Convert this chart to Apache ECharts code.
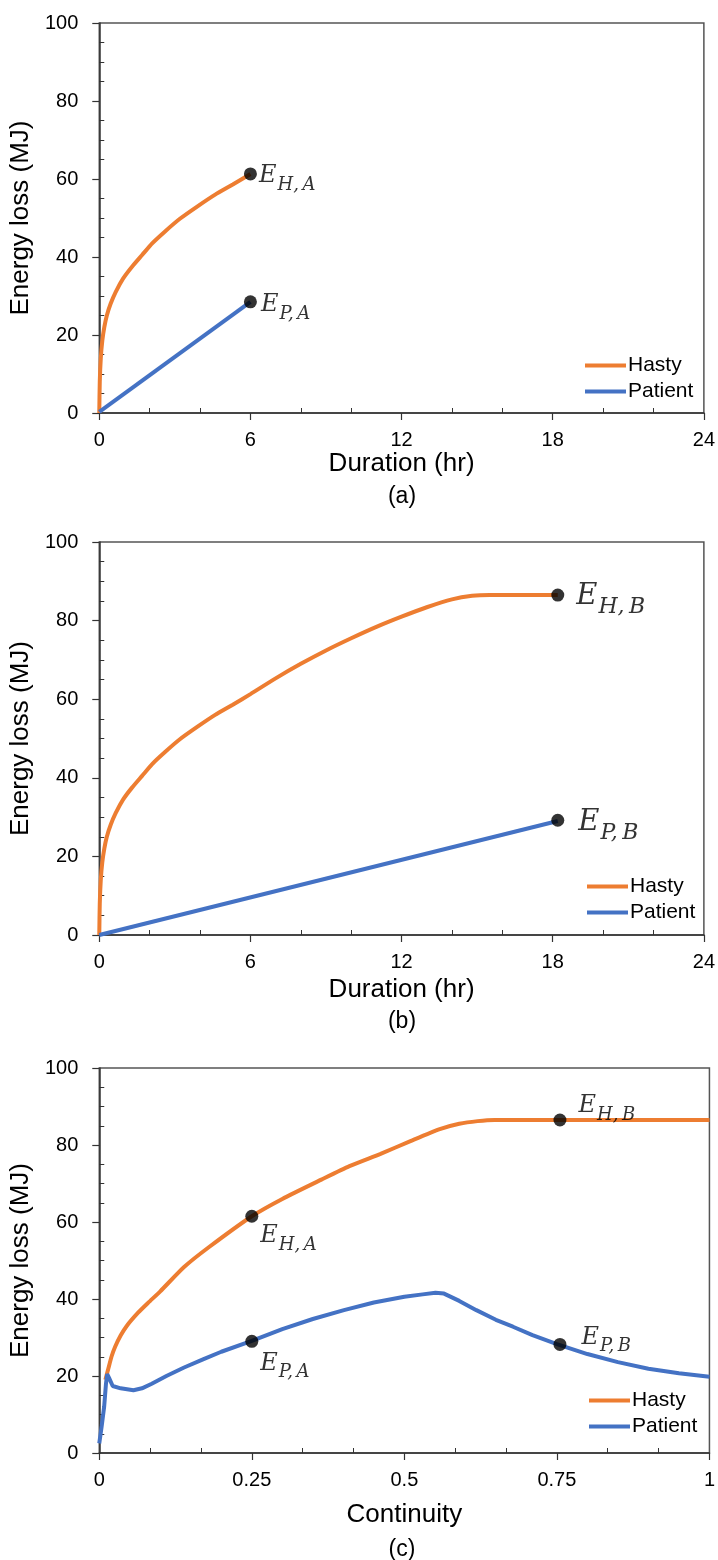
<!DOCTYPE html>
<html>
<head>
<meta charset="utf-8">
<script src="https://cdn.jsdelivr.net/npm/echarts@6/dist/echarts.min.js"></script>
<style>
  html, body { margin: 0; padding: 0; background: #fff; }
  #container { width: 718px; height: 1560px; }
</style>
</head>
<body>
<div id="container"></div>
<script>
// ---- data ----
var seriesNames = ['Hasty', 'Patient'];

// (a) duration, hr -> energy loss, MJ
var hastyA = [[0, 0], [0.02, 8], [0.06, 14], [0.12, 18.5], [0.2, 22], [0.3, 25], [0.45, 28],
    [0.65, 31], [0.95, 34.5], [1.3, 37.5], [1.7, 40.5], [2.1, 43.5], [2.6, 46.5], [3.2, 49.8],
    [3.9, 53], [4.6, 56], [5.3, 58.6], [6, 61.3]];
var patientA = [[0, 0.3], [6, 28.5]];

// (b) same hasty curve carried on until it levels off
var hastyTailB = [[7, 65.3], [8, 69], [9, 72.4], [10, 75.5], [11, 78.4], [12, 81], [13, 83.4],
    [14, 85.4], [14.8, 86.3], [15.5, 86.5], [18.2, 86.5]];
var hastyB = hastyA.concat(hastyTailB);
var patientB = [[0, 0], [18.2, 29]];

// (c) continuity -> energy loss
var hastyC = [[0.01, 19], [0.015, 22], [0.02, 25], [0.026, 27.6], [0.035, 30.5], [0.045, 33],
    [0.064, 36.5], [0.08, 39], [0.1, 42], [0.139, 48.3], [0.18, 53.5], [0.25, 61.5], [0.3, 66],
    [0.364, 71], [0.41, 74.5], [0.461, 77.7], [0.51, 81], [0.558, 84.1], [0.59, 85.5],
    [0.62, 86.2], [0.648, 86.5], [1, 86.5]];
var patientC = [[0, 2.5], [0.004, 7], [0.008, 12], [0.011, 18], [0.013, 20.5], [0.016, 19.5],
    [0.022, 17.4], [0.035, 16.8], [0.056, 16.3], [0.07, 16.8], [0.086, 18], [0.11, 20],
    [0.139, 22.2], [0.17, 24.3], [0.2, 26.3], [0.25, 29.1], [0.3, 32.2], [0.35, 34.8],
    [0.401, 37.1], [0.45, 39.1], [0.5, 40.6], [0.53, 41.2], [0.551, 41.6], [0.565, 41.4],
    [0.59, 39.5], [0.618, 37.1], [0.65, 34.6], [0.678, 32.8], [0.71, 30.6], [0.75, 28.3],
    [0.8, 25.7], [0.85, 23.6], [0.9, 21.9], [0.95, 20.7], [1, 19.8]];

// marked points: x, y, subscript
var pointsA = [[6, 61.3, 'H,A'], [6, 28.5, 'P,A']];
var pointsB = [[18.2, 86.5, 'H,B'], [18.2, 29.2, 'P,B']];
var pointsC = [[0.25, 61.5, 'H,A'], [0.755, 86.5, 'H,B'], [0.25, 29, 'P,A'], [0.755, 28.2, 'P,B']];

var durationTicks = [0, 24, 6];
var continuityTicks = [0, 1, 0.25];
var captions = ['(a)', '(b)', '(c)'];

// ---- chart ----
var dom = document.getElementById("container");
var myChart = echarts.init(dom);
var option = null;

var SANS = 'Liberation Sans';
var SERIF = 'DejaVu Serif';
var ORANGE = '#ED7D31';
var BLUE = '#4472C4';
var AXIS = '#333';

// label placement for each marked point (distance right of dot, vertical shift)
var placeA = [{d: 2, dy: 5}, {d: 4, dy: 6}];
var placeB = [{d: 12, dy: 5}, {d: 14, dy: 6}];
var placeC = [{d: 2, dy: 23}, {d: 12, dy: -11}, {d: 2, dy: 25}, {d: 15, dy: -4}];

function yAxisFor(i) {
    return {
        gridIndex: i,
        type: 'value',
        min: 0,
        max: 100,
        interval: 20,
        name: 'Energy loss (MJ)',
        nameLocation: 'middle',
        nameGap: 62,
        nameTextStyle: {fontFamily: SANS, fontSize: 26, color: '#000'},
        axisLine: {show: true, lineStyle: {color: AXIS, width: 1.5}},
        axisTick: {show: true, inside: false, length: 7, lineStyle: {color: AXIS, width: 1.2}},
        minorTick: {show: true, splitNumber: 4, length: -5, lineStyle: {color: AXIS, width: 1}},
        axisLabel: {fontFamily: SANS, fontSize: 20, color: '#000', margin: 21},
        splitLine: {show: false}
    };
}

function xAxisFor(i, ticks, name, gap) {
    return {
        gridIndex: i,
        type: 'value',
        min: ticks[0],
        max: ticks[1],
        interval: ticks[2],
        name: name,
        nameLocation: 'middle',
        nameGap: gap,
        nameTextStyle: {fontFamily: SANS, fontSize: 26, color: '#000'},
        axisLine: {show: true, onZero: false, lineStyle: {color: AXIS, width: 1.5}},
        axisTick: {show: true, inside: false, length: 7, lineStyle: {color: AXIS, width: 1.2}},
        minorTick: {show: true, splitNumber: 3, length: -5, lineStyle: {color: AXIS, width: 1}},
        axisLabel: {fontFamily: SANS, fontSize: 20, color: '#000', margin: 17},
        splitLine: {show: false}
    };
}

function lineSeries(name, i, data, color, smooth) {
    return {
        name: name,
        type: 'line',
        xAxisIndex: i,
        yAxisIndex: i,
        data: data,
        showSymbol: false,
        symbol: 'none',
        smooth: smooth ? 0.2 : false,
        lineStyle: {color: color, width: 4},
        itemStyle: {color: color},
        z: 3,
        silent: true
    };
}

function pointSeries(i, points, place, eSize, sSize) {
    return {
        type: 'scatter',
        xAxisIndex: i,
        yAxisIndex: i,
        symbolSize: 13,
        itemStyle: {color: '#000'},
        z: 5,
        data: points.map(function (p, k) {
            return {
                value: [p[0], p[1]],
                label: {
                    show: true,
                    position: 'right',
                    distance: place[k].d,
                    offset: [0, place[k].dy],
                    formatter: '{e|E}{s|' + p[2].replace(',', ',\u2009') + '}',
                    rich: {
                        e: {fontFamily: SERIF, fontStyle: 'italic', fontSize: eSize, color: '#000',
                            verticalAlign: 'top', padding: [0, 1, Math.round(eSize * 0.25), 0]},
                        s: {fontFamily: SERIF, fontStyle: 'italic', fontSize: sSize, color: '#000',
                            verticalAlign: 'bottom'}
                    }
                }
            };
        })
    };
}

function legendFor(left, top) {
    return {
        data: seriesNames,
        orient: 'vertical',
        left: left,
        top: top,
        icon: 'rect',
        itemWidth: 41,
        itemHeight: 4,
        itemGap: 5,
        padding: 0,
        selectedMode: false,
        textStyle: {fontFamily: SANS, fontSize: 21, color: '#000', padding: [0, 0, 0, -3]}
    };
}

var gridBox = {show: true, borderColor: '#555', borderWidth: 1.5, backgroundColor: 'transparent'};

option = {
    backgroundColor: '#fff',
    animation: false,
    grid: [
        Object.assign({left: 99, top: 23, width: 607, height: 390}, gridBox),
        Object.assign({left: 99, top: 542, width: 608, height: 393}, gridBox),
        Object.assign({left: 99, top: 1068, width: 611, height: 385}, gridBox)
    ],
    xAxis: [
        xAxisFor(0, durationTicks, 'Duration (hr)', 37),
        xAxisFor(1, durationTicks, 'Duration (hr)', 42),
        xAxisFor(2, continuityTicks, 'Continuity', 49)
    ],
    yAxis: [yAxisFor(0), yAxisFor(1), yAxisFor(2)],
    legend: [legendFor(585, 355), legendFor(587, 876), legendFor(589, 1390)],
    graphic: captions.map(function (c, k) {
        return {
            type: 'text',
            x: 402,
            y: [497, 1022, 1550][k],
            style: {text: c, fontFamily: SANS, fontSize: 23, fill: '#000',
                align: 'center', verticalAlign: 'middle'}
        };
    }),
    series: [
        lineSeries('Hasty', 0, hastyA, ORANGE, true),
        lineSeries('Patient', 0, patientA, BLUE, false),
        lineSeries('Hasty', 1, hastyB, ORANGE, true),
        lineSeries('Patient', 1, patientB, BLUE, false),
        lineSeries('Hasty', 2, hastyC, ORANGE, true),
        lineSeries('Patient', 2, patientC, BLUE, false),
        pointSeries(0, pointsA, placeA, 24, 18),
        pointSeries(1, pointsB, placeB, 29, 22),
        pointSeries(2, pointsC, placeC, 24, 18)
    ]
};

if (option && typeof option === "object") {
    myChart.setOption(option, true);
}
</script>
</body>
</html>
